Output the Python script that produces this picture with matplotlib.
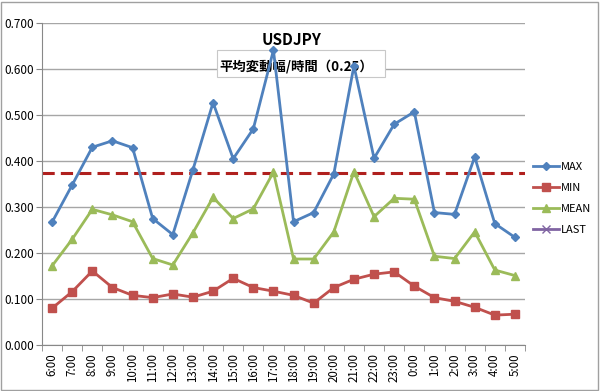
import numpy as np
import matplotlib
matplotlib.use('Agg')
import matplotlib.pyplot as plt

plt.rcParams['font.family'] = ['Noto Sans CJK JP', 'DejaVu Sans']

hours = ['6:00', '7:00', '8:00', '9:00', '10:00', '11:00', '12:00', '13:00',
         '14:00', '15:00', '16:00', '17:00', '18:00', '19:00', '20:00', '21:00',
         '22:00', '23:00', '0:00', '1:00', '2:00', '3:00', '4:00', '5:00']
max_vals = [0.267, 0.348, 0.430, 0.444, 0.429, 0.275, 0.240, 0.381,
            0.527, 0.405, 0.470, 0.641, 0.268, 0.288, 0.372, 0.607,
            0.406, 0.480, 0.507, 0.288, 0.284, 0.409, 0.264, 0.234]
min_vals = [0.080, 0.116, 0.161, 0.125, 0.108, 0.103, 0.111, 0.104,
            0.117, 0.145, 0.125, 0.117, 0.108, 0.091, 0.125, 0.143,
            0.154, 0.159, 0.128, 0.103, 0.095, 0.082, 0.065, 0.067]
mean_vals = [0.172, 0.230, 0.295, 0.283, 0.268, 0.188, 0.174, 0.244,
             0.321, 0.275, 0.296, 0.376, 0.187, 0.187, 0.246, 0.377,
             0.279, 0.319, 0.317, 0.193, 0.188, 0.246, 0.163, 0.151]
last_vals = []
avg_line = 0.373

x = np.arange(len(hours))

fig = plt.figure(figsize=(6, 3.91), dpi=100)
fig.patches.append(plt.Rectangle((0.002, 0.003), 0.994, 0.992, transform=fig.transFigure,
                                 fill=False, edgecolor='#a0a0a0', linewidth=1))
ax = fig.add_axes([0.07, 0.1176, 0.805, 0.8235])

ax.plot(x, max_vals, color='#4F81BD', marker='D', markersize=4.5, linewidth=2, label='MAX', zorder=3)
ax.plot(x, min_vals, color='#C0504D', marker='s', markersize=5.5, linewidth=2, label='MIN', zorder=3)
ax.plot(x, mean_vals, color='#9BBB59', marker='^', markersize=6, linewidth=2, label='MEAN', zorder=3)
ax.plot(x[:len(last_vals)], last_vals, color='#8064A2', marker='x', markersize=6, linewidth=2, label='LAST', zorder=3)
ax.axhline(avg_line, color='#B0201E', linestyle=(0, (4, 2)), linewidth=2.2, zorder=2)

ax.set_xlim(-0.5, len(hours) - 0.5)
ax.set_ylim(0, 0.7)
ax.set_yticks(np.arange(0, 0.71, 0.1))
ax.set_yticklabels(['%.3f' % v for v in np.arange(0, 0.71, 0.1)], fontsize=8.5)
ax.set_xticks(x)
ax.set_xticklabels(hours, rotation=90, fontsize=8.3)
ax.set_xticks(np.arange(-0.5, len(hours)), minor=True)
ax.tick_params(axis='x', which='major', length=0, pad=6)
ax.tick_params(axis='x', which='minor', length=4, color='#888888')
ax.tick_params(axis='y', length=4, color='#888888', pad=2)

ax.grid(axis='y', color='#a6a6a6', linewidth=1)
ax.set_axisbelow(True)
for s in ['top', 'right']:
    ax.spines[s].set_visible(False)
ax.spines['left'].set_color('#888888')
ax.spines['bottom'].set_color('#888888')

# subtitle box sits above the grid but under the lines
ax.add_patch(plt.Rectangle((0.3617, 0.803), 0.28, 0.069, transform=fig.transFigure,
                           facecolor='white', edgecolor='#c8c8c8', linewidth=0.8,
                           zorder=1.5, clip_on=False))
ax.text(0.494, 0.831, '平均変動幅/時間（0.25）', transform=fig.transFigure, fontsize=9.6,
        fontweight='bold', ha='center', va='center', zorder=1.6)
fig.text(0.486, 0.898, 'USDJPY', fontsize=11, fontweight='bold', ha='center', va='center')

leg = fig.legend(loc='upper left', bbox_to_anchor=(0.872, 0.612), frameon=False, fontsize=8,
                 handlelength=2.3, labelspacing=1.0, handletextpad=0.15)

plt.savefig('out.png', dpi=100)
